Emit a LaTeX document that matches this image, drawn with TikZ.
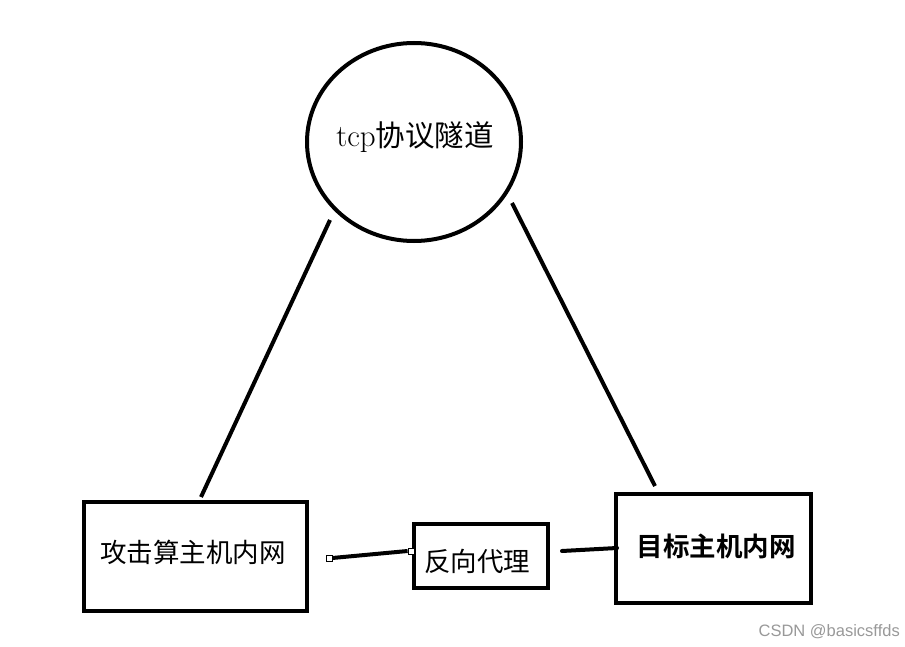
\documentclass[tikz,border=0pt]{standalone}
\usepackage{fontspec}
\newfontfamily\cjk{Noto Sans CJK SC}
\newfontfamily\cjkb{Noto Sans CJK SC Bold}
\newfontfamily\wm{Liberation Sans}
\usetikzlibrary{shapes.geometric}
\begin{document}
\begin{tikzpicture}[x=1pt,y=-1pt,
  thick line/.style={line width=4pt},
  boxnode/.style={draw,line width=4.2pt,minimum width=#1,inner sep=0pt},
  endsq/.style={draw,fill=white,line width=0.8pt,minimum size=6pt,inner sep=0pt}]
\useasboundingbox (0,0) rectangle (905,647);
\fill[white] (0,0) rectangle (905,647);
% tunnel circle
\node[ellipse,draw,line width=4pt,minimum width=214pt,minimum height=198pt,inner sep=0pt] (tun) at (414,142) {};
\node (tuntext) at (415,137) {\fontsize{31}{33}\selectfont tcp{\cjk\fontsize{29.5}{31}\selectfont 协议隧道}};
% boxes
\node[boxnode=223pt,minimum height=109pt] (att) at (195.5,556.5) {};
\node (atttext) at (193,552) {\cjk\fontsize{26.5}{28}\selectfont 攻击算主机内网};
\node[boxnode=134pt,minimum height=64pt] (prx) at (481,556) {};
\node (prxtext) at (477,561) {\cjk\fontsize{26.5}{28}\selectfont 反向代理};
\node[boxnode=195pt,minimum height=109pt] (tgt) at (713.5,548.5) {};
\node (tgttext) at (716,546) {\cjkb\fontsize{26.5}{28}\selectfont 目标主机内网};
% connector end points
\coordinate (l1) at (330,220);
\coordinate (l2) at (201,497);
\coordinate (r1) at (512,203);
\coordinate (r2) at (655,486);
\node[endsq] (sqa) at (329,558) {};
\node[endsq] (sqb) at (411,551) {};
\coordinate (m1) at (562,551);
\coordinate (m2) at (617,548);
\draw[thick line] (l1) -- (l2);
\draw[thick line] (r1) -- (r2);
\draw[line width=4pt] (sqa.east) -- (sqb.west);
\draw[line width=4pt,line cap=round] (m1) -- (m2);
% watermark
\node[text=black!40,anchor=east,inner sep=0pt] (wmk) at (900,632) {\wm\fontsize{16.5}{18}\selectfont CSDN @basicsffds};
\end{tikzpicture}
\end{document}
